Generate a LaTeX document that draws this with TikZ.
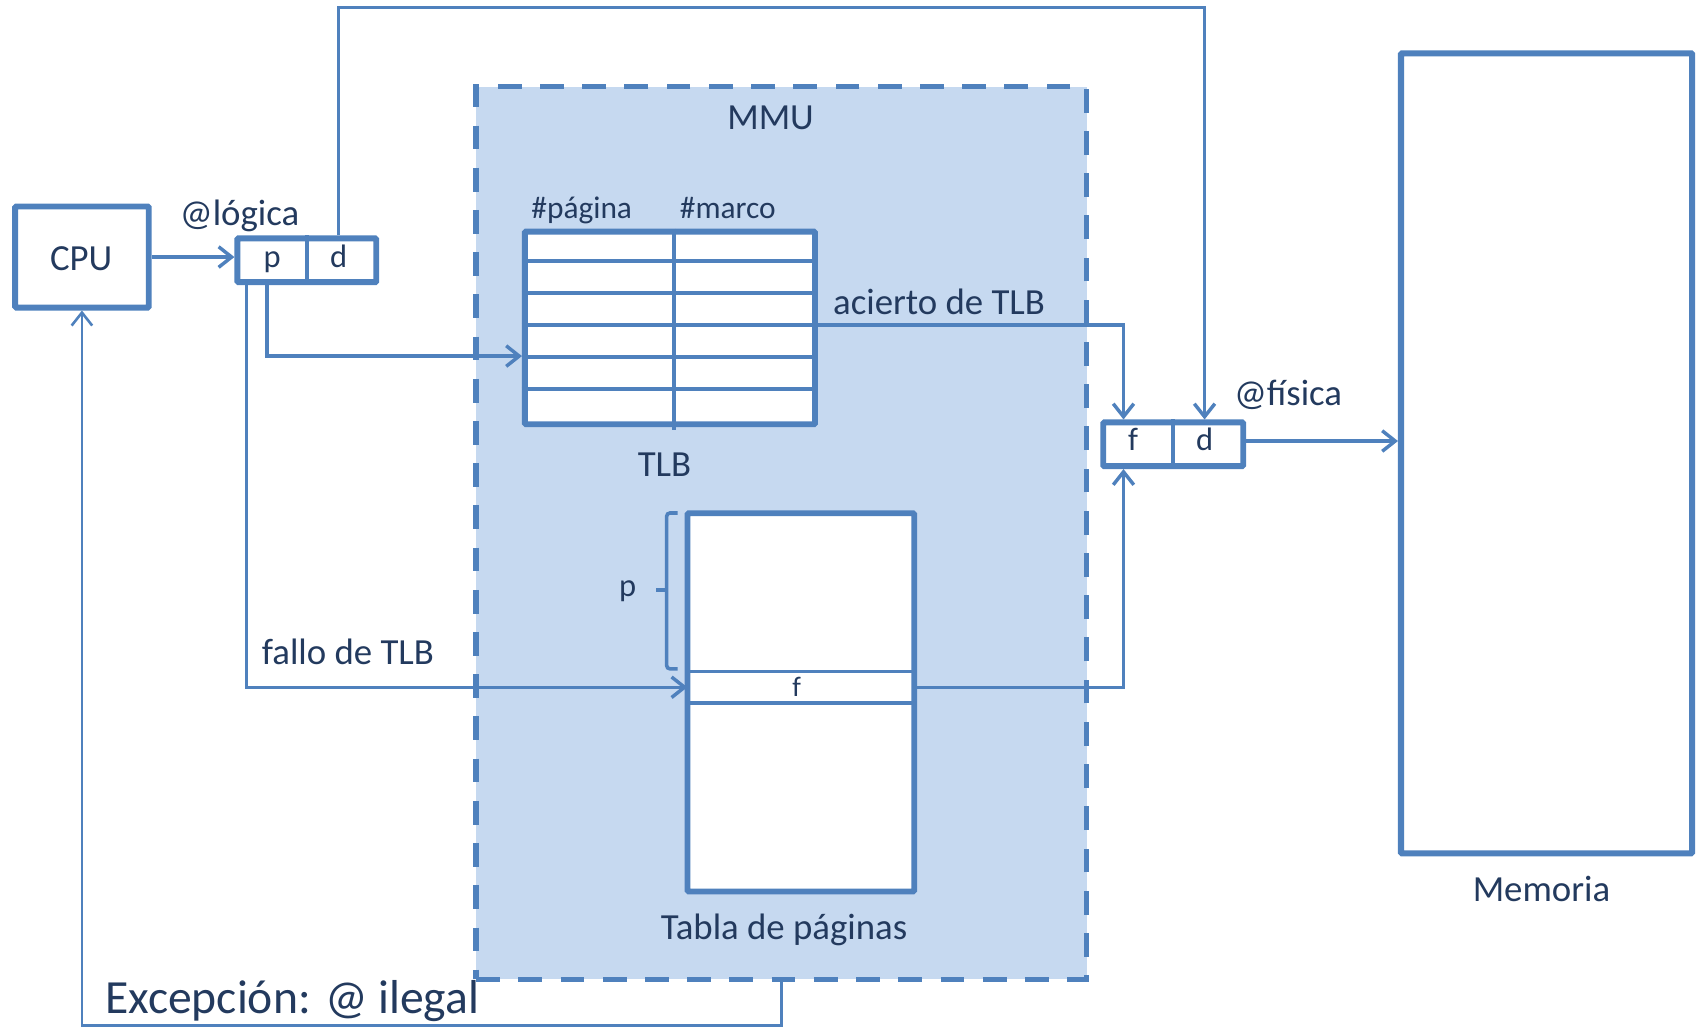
\documentclass[tikz,border=0pt]{standalone}
\usepackage{fontspec}
\setmainfont{Carlito}
\usetikzlibrary{arrows.meta}
\definecolor{lblue}{RGB}{79,129,189}
\definecolor{mfill}{RGB}{198,217,240}
\definecolor{txt}{RGB}{35,58,94}
\begin{document}
\begin{tikzpicture}[x=1pt,y=-1pt,
  box/.style={draw=lblue, line width=5.4pt, fill=white, inner sep=0pt, rounded corners=1pt},
  thinline/.style={draw=lblue, line width=3.3pt},
  conn/.style={draw=lblue, line width=3.2pt, -{Straight Barb[length=12pt,width=19pt]}},
  lab/.style={text=txt, font=\fontsize{34}{40}\selectfont, inner sep=0pt},
  small/.style={text=txt, font=\fontsize{29}{34}\selectfont, inner sep=0pt},
  cell/.style={text=txt, font=\fontsize{30}{36}\selectfont, inner sep=0pt},
  tiny/.style={text=txt, font=\fontsize{26}{30}\selectfont, inner sep=0pt},
  big/.style={text=txt, font=\fontsize{44}{50}\selectfont, inner sep=0pt},
]
\useasboundingbox (0,0) rectangle (1568,949);

% MMU
\node[draw=lblue, fill=mfill, line width=5.2pt, dash pattern=on 22pt off 17pt,
      minimum width=564pt, minimum height=825pt, inner sep=0pt] (mmu) at (722,492.5) {};
\node[lab, anchor=base] (mmulab) at (712,120) {MMU};

% CPU
\node[box, minimum width=123.4pt, minimum height=93.4pt] (cpu) at (75.7,237.5) {};
\node[lab, anchor=base] (cputxt) at (75,250) {CPU};

% logical address
\node[box, minimum width=128.4pt, minimum height=40.4pt] (pd) at (283.5,240.5) {};
\draw[thinline] (pd.north) -- (pd.south);
\node[cell, anchor=base] (pcell) at (251.5,247) {p};
\node[cell, anchor=base] (dcell) at (313,247) {d};
\node[lab, anchor=base west] (logica) at (166,208) {@lógica};

% physical address
\node[box, minimum width=129.4pt, minimum height=40.4pt] (fd) at (1084,410.5) {};
\draw[thinline] (fd.north) -- (fd.south);
\node[cell, anchor=base] (fcell) at (1047,416.5) {f};
\node[cell, anchor=base] (fdcell) at (1113,416.5) {d};
\node[lab, anchor=base west] (fisica) at (1140,375) {@física};

% memory
\node[box, line width=5.6pt, minimum width=269pt, minimum height=739.2pt] (mem) at (1429,418.9) {};
\node[lab, anchor=base] (memlab) at (1424.3,833) {Memoria};

% TLB
\node[box, minimum width=268pt, minimum height=178pt] (tlb) at (619,303) {};
\foreach \i in {1,...,5} {
  \draw[thinline] ([yshift=-\i*29.67pt]tlb.north west) -- ([yshift=-\i*29.67pt]tlb.north east);
}
\draw[thinline] ([xshift=4pt]tlb.north) -- ([xshift=4pt,yshift=-3pt]tlb.south);
\node[small, anchor=base west] (colp) at (490.8,202) {\#página};
\node[small, anchor=base west] (colm) at (628,202) {\#marco};
\node[lab, anchor=base] (tlblab) at (614,440) {TLB};

% page table
\node[box, minimum width=209.4pt, minimum height=349.4pt] (pt) at (740,649) {};
\node[minimum width=209.4pt, minimum height=29pt, inner sep=0pt] (frow) at (740,635) {};
\draw[thinline] (frow.north west) -- (frow.north east);
\draw[thinline] (frow.south west) -- (frow.south east);
\node[tiny, anchor=base] (ftxt) at (736,644) {f};
\node[lab, anchor=base] (tabla) at (724.4,868.5) {Tabla de páginas};

% bracket
\draw[thinline, rounded corners=3pt] (626,474) -- (616,474) -- (616,618) -- (626,618);
\draw[thinline] (616,545) -- (606,545);
\node[cell, anchor=base] (pbr) at (580,551) {p};

% labels
\node[lab, anchor=base west] (acierto) at (769.6,291) {acierto de TLB};
\node[lab, anchor=base west] (fallo) at (241.8,613.6) {fallo de TLB};
\node[big, anchor=base west] (exc) at (97,936) {Excepción: @ ilegal};

% connectors
\coordinate (topy) at (0,6.8);
\coordinate (boty) at (0,947.5);
\draw[conn] (cpu.east) -- (cpu.east -| pd.west);
\draw[conn] (pd.north -| dcell) -- (dcell |- topy) -| (fd.north -| fdcell);
\draw[conn] ([xshift=30pt]pd.south west) |- ([yshift=-26pt]tlb.west);
\draw[conn] ([xshift=11pt]pd.south west) |- (frow.west);
\draw[conn] ([yshift=2.7pt]tlb.east) -| ([xshift=21.5pt]fd.north west);
\draw[conn] (frow.east) -| ([xshift=21.5pt]fd.south west);
\draw[conn] ([yshift=3pt]fd.east) -- ([yshift=3pt]fd.east -| mem.west);
\draw[conn, line width=2.4pt] (mmu.south) -- (mmu.south |- boty) -| (cpu.south);
\end{tikzpicture}
\end{document}
